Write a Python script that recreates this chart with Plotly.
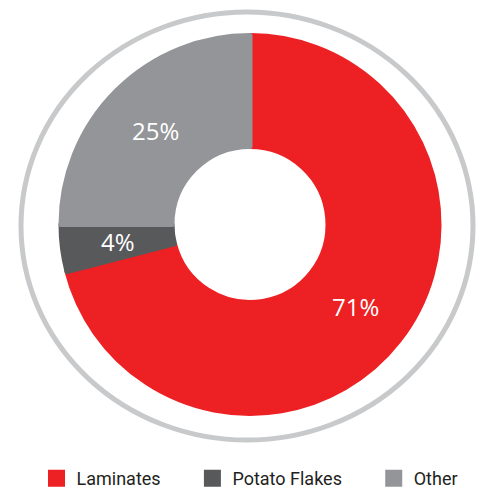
import math
import plotly.graph_objects as go

labels = ["Laminates", "Potato Flakes", "Other"]
values = [71, 4, 25]
colors = ["#ed2024", "#58595b", "#939598"]

W, H = 480, 490
CX, CY = 250, 224.5      # pie centre (px)
R_OUT, R_IN = 189, 78    # pie geometry (px)
LW = 5                   # slice outline width (also enlarges legend swatches)
PAD = "\u00a0" * 6       # extra gap after a legend label

def px(x):
    return x / W

def py(y):
    return 1 - y / H

legend_labels = [l + PAD if i < len(labels) - 1 else l for i, l in enumerate(labels)]

fig = go.Figure()
fig.add_trace(go.Pie(
    labels=legend_labels,
    values=values,
    marker=dict(colors=colors, line=dict(width=LW, color=colors)),
    hole=R_IN / R_OUT,
    sort=False,
    direction="clockwise",
    rotation=0,
    textinfo="none",
    hoverinfo="skip",
    domain=dict(x=[px(CX - R_OUT), px(CX + R_OUT)],
                y=[py(CY + R_OUT), py(CY - R_OUT)]),
))

# percentage labels at the middle of each slice
total = sum(values)
annotations = []
cum = 0
r_mid = (R_OUT + R_IN) / 2
for v in values:
    mid = (cum + v / 2) / total * 2 * math.pi
    cum += v
    x = CX + r_mid * math.sin(mid)
    y = CY - r_mid * math.cos(mid)
    annotations.append(dict(
        x=px(x), y=py(y), xref="paper", yref="paper",
        text=f"{round(v / total * 100)}%", showarrow=False,
        xanchor="center", yanchor="middle",
        font=dict(family="Open Sans", size=24, color="white"),
    ))

fig.update_layout(
    width=W, height=H,
    margin=dict(l=0, r=0, t=0, b=0, autoexpand=False),
    paper_bgcolor="white",
    plot_bgcolor="white",
    showlegend=True,
    annotations=annotations,
    legend=dict(
        orientation="h",
        x=px(250), xanchor="center",
        y=py(478.5), yanchor="middle",
        font=dict(family="Roboto", size=18, color="#231f20"),
        itemclick=False,
    ),
    shapes=[dict(
        type="circle", xref="paper", yref="paper",
        x0=px(21), x1=px(473), y0=py(440), y1=py(12),
        line=dict(color="#c8c9cb", width=5),
        layer="below",
    )],
)

fig.write_html("out.html")
